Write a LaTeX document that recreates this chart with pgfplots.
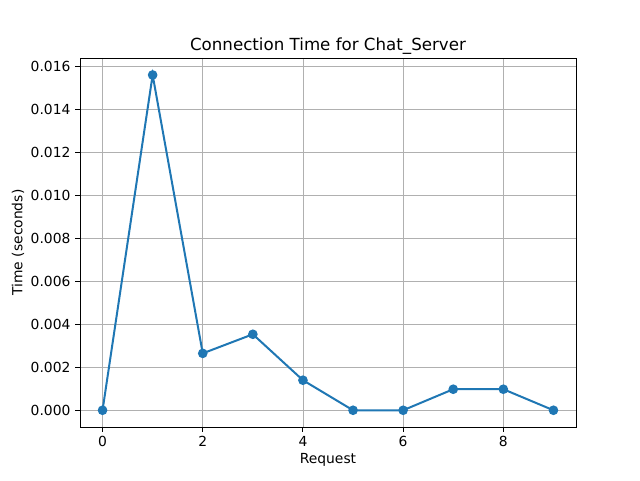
\documentclass[border=0pt]{standalone}
\usepackage{pgfplots}
\pgfplotsset{compat=1.18}
\usepackage{fontspec}
\setmainfont{DejaVu Sans}
\definecolor{mplblue}{HTML}{1F77B4}
\definecolor{mplgrid}{HTML}{B0B0B0}
\begin{document}
\begin{tikzpicture}[x=1pt,y=1pt]
\useasboundingbox (0,0) rectangle (480,360);
\begin{axis}[
  at={(60pt,39.75pt)}, anchor=south west,
  scale only axis, width=372pt, height=276.75pt,
  xmin=-0.45, xmax=9.45,
  ymin=-0.00078, ymax=0.01641,
  xtick={0,2,4,6,8},
  ytick={0,0.002,0.004,0.006,0.008,0.010,0.012,0.014,0.016},
  scaled ticks=false,
  yticklabel style={/pgf/number format/.cd,fixed,fixed zerofill,precision=3},
  /pgf/number format/assume math mode=true,
  tick label style={font=\fontsize{10.4}{12}\selectfont},
  label style={font=\fontsize{10.4}{12}\selectfont},
  title style={font=\fontsize{12.5}{14}\selectfont, at={(0.5,1)}, anchor=south, yshift=-7pt},
  title={Connection Time for Chat\_Server},
  xlabel={Request}, ylabel={Time (seconds)},
  tick align=outside, major tick length=3.65pt,
  tick style={black, line width=0.7pt},
  xtick pos=bottom, ytick pos=left,
  axis line style={line width=0.7pt},
  grid=major, grid style={mplgrid, line width=0.65pt},
  xlabel style={yshift=2pt},
  ylabel style={yshift=-2pt},
]
\addplot[mplblue, line width=1.5pt, mark=*, mark size=3.1pt, mark options={fill=mplblue, draw=mplblue, line width=1pt}]
coordinates {(0,0) (1,0.01562) (2,0.00265) (3,0.00354) (4,0.0014) (5,0) (6,0) (7,0.00098) (8,0.00098) (9,0)};
\end{axis}
\end{tikzpicture}
\end{document}
